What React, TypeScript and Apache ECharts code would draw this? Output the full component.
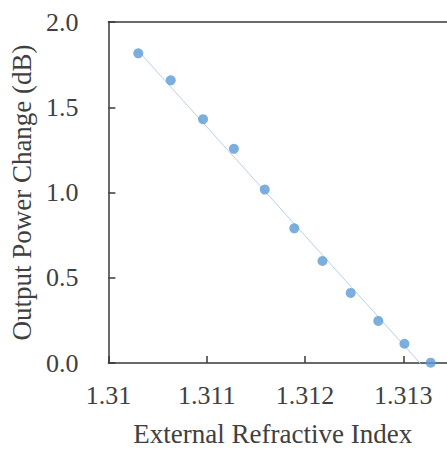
import React, { useEffect, useRef } from "react";
import * as echarts from "echarts";

const refractiveIndex = [1.310304, 1.310634, 1.310963, 1.311277, 1.311591, 1.311891, 1.312178, 1.312465, 1.312746, 1.313012, 1.313279];
const powerChange = [1.816, 1.658, 1.43, 1.256, 1.017, 0.79, 0.598, 0.411, 0.247, 0.113, 0.002];
const trendX = [1.310304, 1.313279];
const trendY = [1.83, -0.07];

const FONT = "'Liberation Serif', 'Times New Roman', serif";
const TEXT = "#404040";
const AXIS = "#3a3a3a";

export default function App() {
  const ref = useRef<HTMLDivElement>(null);
  useEffect(() => {
    if (!ref.current) return;
    const chart = echarts.init(ref.current, null, { renderer: "svg" });
    chart.setOption({
      animation: false,
      backgroundColor: "#ffffff",
      grid: { left: 107, top: 22, right: 0, bottom: 81, containLabel: false },
      xAxis: [
        {
          type: "value",
          min: 1.31,
          max: 1.313445,
          interval: 0.001,
          name: "External Refractive Index",
          nameLocation: "middle",
          nameGap: 57,
          nameTextStyle: { fontFamily: FONT, fontSize: 27, color: TEXT, padding: [0, 10, 0, 0] },
          axisLine: { show: true, lineStyle: { color: AXIS, width: 1.5 } },
          axisTick: { show: true, inside: true, length: 7, lineStyle: { color: AXIS, width: 1.5 } },
          axisLabel: { fontFamily: FONT, fontSize: 26, color: TEXT, margin: 19, showMaxLabel: false },
          splitLine: { show: false },
        },
        {
          type: "value",
          position: "top",
          min: 1.31,
          max: 1.313445,
          interval: 0.001,
          axisLine: { show: true, onZero: false, lineStyle: { color: AXIS, width: 1.5 } },
          axisTick: { show: false },
          axisLabel: { show: false },
          splitLine: { show: false },
        },
      ],
      yAxis: {
        type: "value",
        min: 0,
        max: 2,
        interval: 0.5,
        name: "Output Power Change (dB)",
        nameLocation: "middle",
        nameGap: 64,
        nameTextStyle: { fontFamily: FONT, fontSize: 27, color: TEXT },
        axisLine: { show: true, onZero: false, lineStyle: { color: AXIS, width: 1.5 } },
        axisTick: { show: true, inside: true, length: 7, lineStyle: { color: AXIS, width: 1.5 } },
        axisLabel: {
          fontFamily: FONT,
          fontSize: 26,
          color: TEXT,
          margin: 30,
          formatter: (v: number) => v.toFixed(1),
        },
        splitLine: { show: false },
      },
      series: [
        {
          type: "line",
          data: trendX.map((x, i) => [x, trendY[i]]),
          symbol: "none",
          clip: true,
          lineStyle: { color: "#b4d0ec", width: 1 },
          z: 1,
        },
        {
          type: "scatter",
          data: refractiveIndex.map((x, i) => [x, powerChange[i]]),
          symbol: "circle",
          symbolSize: 10,
          clip: false,
          itemStyle: { color: "#5b9bd5" },
          z: 3,
        },
      ],
    });
    return () => chart.dispose();
  }, []);
  return (
    <div
      ref={ref}
      style={{ position: "fixed", left: 0, top: 0, width: 447, height: 452, background: "#fff" }}
    />
  );
}
